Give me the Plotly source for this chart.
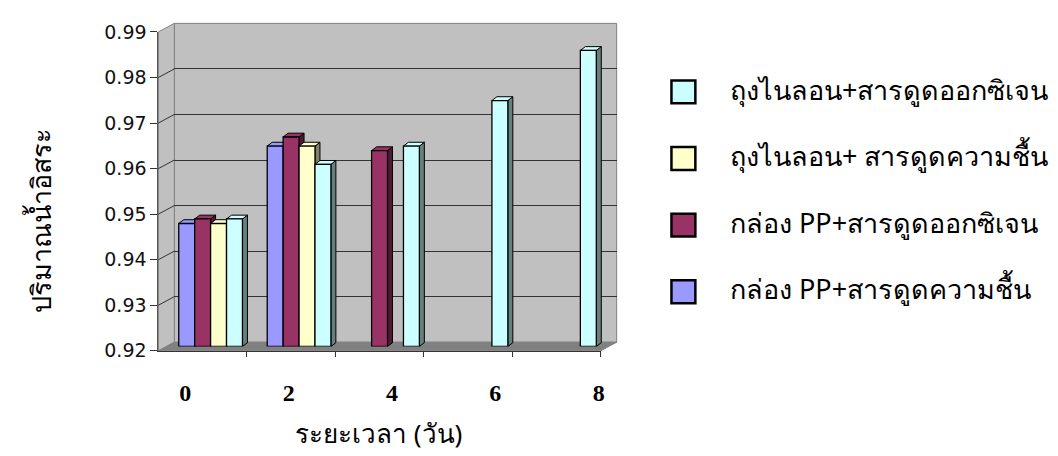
import plotly.graph_objects as go

# ---- data -------------------------------------------------------------
days = ["0", "2", "4", "6", "8"]
series_names = [
    "กล่อง PP+สารดูดความชื้น",
    "กล่อง PP+สารดูดออกซิเจน",
    "ถุงไนลอน+ สารดูดความชื้น",
    "ถุงไนลอน+สารดูดออกซิเจน",
]
pp_moisture = [0.947, 0.964, None, None, None]
pp_oxygen = [0.948, 0.966, 0.963, None, None]
nylon_moisture = [0.947, 0.964, None, None, None]
nylon_oxygen = [0.948, 0.960, 0.964, 0.974, 0.985]
y_ticks = [0.92, 0.93, 0.94, 0.95, 0.96, 0.97, 0.98, 0.99]

series_values = [pp_moisture, pp_oxygen, nylon_moisture, nylon_oxygen]
face_colors = ["#9999FF", "#993366", "#FFFFCC", "#CCFFFF"]
side_colors = ["#4D4D80", "#4D1A33", "#80806A", "#668080"]

# ---- geometry of the pseudo-3D box (pixels) ---------------------------
W, H = 1058, 456
FRONT = (159, 603, 22, 357)      # left, right, top, bottom of front plane
DEPTH = (16, -9)                 # shift from front plane to back wall
BAR_DEPTH = (5, -4)              # depth of each column
Y_MIN, Y_MAX = y_ticks[0], y_ticks[-1]
N = len(days)
BAR_W = 0.18
OFFSETS = [-0.36, -0.18, 0.0, 0.18]


def px(x):
    return x / W


def py(y):
    return 1 - y / H


def plane(f):
    x0, x1, y0, y1 = FRONT
    return (x0 + f * DEPTH[0], x1 + f * DEPTH[0], y0 + f * DEPTH[1], y1 + f * DEPTH[1])


def y_pix(v, f):
    _, _, y0, y1 = plane(f)
    return y1 - (v - Y_MIN) / (Y_MAX - Y_MIN) * (y1 - y0)


back = plane(1.0)
mid = plane(0.5)
front = plane(0.0)

fig = go.Figure()

# empty traces so that the wall, front-plane and day-label axes get drawn
for xa, ya in (("x", "y"), ("x3", "y3"), ("x4", "y3")):
    fig.add_trace(go.Scatter(x=[None], y=[None], xaxis=xa, yaxis=ya,
                             mode="markers", showlegend=False, hoverinfo="skip"))

# ---- columns (mid-depth plane) ------------------------------------------
for i, (name, vals, col) in enumerate(zip(series_names, series_values, face_colors)):
    fig.add_trace(go.Bar(
        x=list(range(N)),
        y=[None if v is None else v - Y_MIN for v in vals],
        base=Y_MIN,
        name=name,
        width=BAR_W,
        offset=OFFSETS[i],
        marker=dict(color=col, line=dict(color="black", width=1.3)),
        xaxis="x2", yaxis="y2",
        showlegend=False,
        cliponaxis=False,
    ))

# top and side faces of every column, in data units of the column plane
cat_px = (mid[1] - mid[0]) / N
val_px = (mid[3] - mid[2]) / (Y_MAX - Y_MIN)
ddx = BAR_DEPTH[0] / cat_px
ddy = -BAR_DEPTH[1] / val_px
shapes = []
for i, vals in enumerate(series_values):
    for j, v in enumerate(vals):
        if v is None:
            continue
        x0 = j + OFFSETS[i]
        x1 = x0 + BAR_W
        top = (f"M{x0},{v} L{x0 + ddx},{v + ddy} L{x1 + ddx},{v + ddy} "
               f"L{x1},{v} Z")
        side = (f"M{x1},{Y_MIN} L{x1},{v} L{x1 + ddx},{v + ddy} "
                f"L{x1 + ddx},{Y_MIN + ddy} Z")
        for path, fill in ((side, side_colors[i]), (top, face_colors[i])):
            shapes.append(dict(type="path", path=path, xref="x2", yref="y2",
                               fillcolor=fill, line=dict(color="black", width=1),
                               layer="below"))

# ---- walls and floor ------------------------------------------------------
def poly(points, fill, line):
    path = "M" + " L".join(f"{px(a)},{py(b)}" for a, b in points) + " Z"
    return dict(type="path", path=path, xref="paper", yref="paper",
                fillcolor=fill, line=dict(color=line, width=1), layer="below")


shapes.append(poly([(back[0], back[2]), (back[1], back[2]),
                    (back[1], back[3]), (back[0], back[3])], "#C0C0C0", "#808080"))
shapes.append(poly([(front[0], front[2]), (back[0], back[2]),
                    (back[0], back[3]), (front[0], front[3])], "#C0C0C0", "#808080"))
shapes.append(poly([(front[0], front[3]), (back[0], back[3]),
                    (back[1], back[3]), (front[1], front[3])], "#808080", "#808080"))
for v in y_ticks[1:-1]:
    shapes.append(dict(type="line", xref="paper", yref="paper",
                       x0=px(front[0]), y0=py(y_pix(v, 0)),
                       x1=px(back[0]), y1=py(y_pix(v, 1)),
                       line=dict(color="#333333", width=1), layer="below"))

# ---- legend -------------------------------------------------------------
annotations = []
LEG_X, LEG_Y0, LEG_STEP, LEG_BOX = 674, 85, 70, 24
for k, i in enumerate(reversed(range(len(series_names)))):
    yc = LEG_Y0 + k * LEG_STEP
    shapes.append(dict(type="rect", xref="paper", yref="paper",
                       x0=px(LEG_X), x1=px(LEG_X + LEG_BOX),
                       y0=py(yc + LEG_BOX / 2), y1=py(yc - LEG_BOX / 2),
                       fillcolor=face_colors[i], line=dict(color="black", width=2.5)))
    annotations.append(dict(text=series_names[i], xref="paper", yref="paper",
                            x=px(731), y=py(yc - 3), xanchor="left", yanchor="middle",
                            showarrow=False,
                            font=dict(size=27, color="black")))

annotations.append(dict(text="ปริมาณน้ำอิสระ", xref="paper", yref="paper",
                        x=px(41), y=py(220), textangle=-90, showarrow=False,
                        xanchor="center", yanchor="middle",
                        font=dict(size=27, color="black")))
annotations.append(dict(text="ระยะเวลา (วัน)", xref="paper", yref="paper",
                        x=px(380), y=py(443), showarrow=False,
                        xanchor="center", yanchor="middle",
                        font=dict(size=26, color="black")))

# ---- axes ---------------------------------------------------------------
xr = [-0.5, N - 0.5]
yr = [Y_MIN, Y_MAX]
hidden = dict(showgrid=False, zeroline=False, showticklabels=False, ticks="",
              showline=False)

# day labels sit on their own axis, spread a little wider than the columns
lbl_first, lbl_last = 186, 601
lbl_scale = (lbl_last - lbl_first) / 8
lbl_range = [0 - (lbl_first - front[0]) / lbl_scale,
             8 + (front[1] - lbl_last) / lbl_scale]

fig.update_layout(
    width=W, height=H,
    margin=dict(l=0, r=0, t=0, b=0),
    paper_bgcolor="white", plot_bgcolor="rgba(0,0,0,0)",
    barmode="overlay",
    showlegend=False,
    font=dict(family="Noto Sans, Liberation Sans, sans-serif", color="black"),
    xaxis=dict(domain=[px(back[0]), px(back[1])], range=xr, anchor="y", **hidden),
    yaxis=dict(domain=[py(back[3]), py(back[2])], range=yr, anchor="x",
               showgrid=True, gridcolor="#333333", gridwidth=1, tickvals=y_ticks,
               zeroline=False, showticklabels=False, ticks="", showline=False),
    xaxis2=dict(domain=[px(mid[0]), px(mid[1])], range=xr, anchor="y2", **hidden),
    yaxis2=dict(domain=[py(mid[3]), py(mid[2])], range=yr, anchor="x2", **hidden),
    xaxis3=dict(domain=[px(front[0]), px(front[1])], range=xr, anchor="y3",
                showgrid=False, zeroline=False, showticklabels=False,
                tickvals=[j + 0.5 for j in range(N)], ticks="outside", ticklen=5,
                tickcolor="#333333", showline=True, linecolor="#333333"),
    yaxis3=dict(domain=[py(front[3]), py(front[2])], range=yr, anchor="x3",
                showgrid=False, zeroline=False, tickvals=y_ticks,
                ticktext=[f"{v:.2f}" for v in y_ticks], ticks="outside", ticklen=7,
                tickcolor="#333333", showline=True, linecolor="#555555",
                tickfont=dict(family="DejaVu Sans", size=19, color="#111111")),
    xaxis4=dict(overlaying="x3", anchor="free", position=py(383), range=lbl_range,
                tickvals=[0, 2, 4, 6, 8], ticktext=days, showgrid=False,
                zeroline=False, ticks="", showline=False,
                tickfont=dict(family="Liberation Serif, Times New Roman", size=24,
                              color="black", weight="bold")),
    shapes=shapes,
    annotations=annotations,
)

fig.write_html("out.html")
